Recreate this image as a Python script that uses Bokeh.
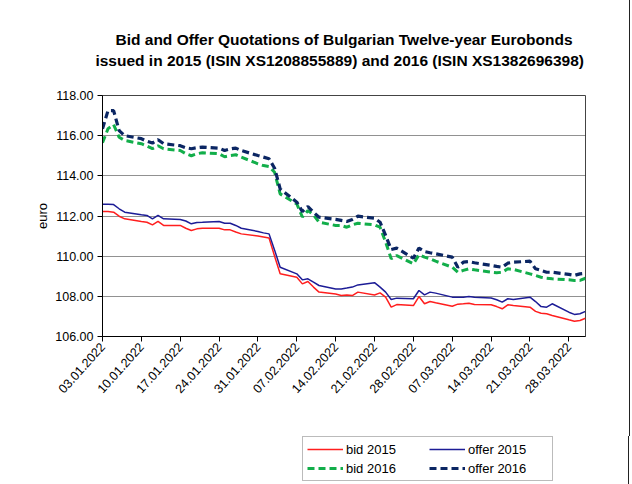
import pandas as pd
from bokeh.plotting import figure
from bokeh.layouts import column
from bokeh.models import Range1d, FixedTicker, Legend, LegendItem, NumeralTickFormatter, Title
from bokeh.embed import file_html
from bokeh.resources import INLINE

dates = [
    "2022-01-03", "2022-01-04", "2022-01-05", "2022-01-06", "2022-01-07",
    "2022-01-10", "2022-01-11", "2022-01-12", "2022-01-13", "2022-01-14",
    "2022-01-17", "2022-01-18", "2022-01-19", "2022-01-20", "2022-01-21",
    "2022-01-24", "2022-01-25", "2022-01-26", "2022-01-27", "2022-01-28",
    "2022-01-31", "2022-02-01", "2022-02-02", "2022-02-03", "2022-02-04",
    "2022-02-07", "2022-02-08", "2022-02-09", "2022-02-10", "2022-02-11",
    "2022-02-14", "2022-02-15", "2022-02-16", "2022-02-17", "2022-02-18",
    "2022-02-21", "2022-02-22", "2022-02-23", "2022-02-24", "2022-02-25",
    "2022-02-28", "2022-03-01", "2022-03-02", "2022-03-03", "2022-03-04",
    "2022-03-07", "2022-03-08", "2022-03-09", "2022-03-10", "2022-03-11",
    "2022-03-14", "2022-03-15", "2022-03-16", "2022-03-17", "2022-03-18",
    "2022-03-21", "2022-03-22", "2022-03-23", "2022-03-24", "2022-03-25",
    "2022-03-28", "2022-03-29", "2022-03-30", "2022-03-31",
]

bid_2015 = [
    112.22, 112.22, 112.19, 111.99, 111.86,
    111.73, 111.69, 111.56, 111.73, 111.53,
    111.53, 111.39, 111.28, 111.36, 111.39,
    111.39, 111.31, 111.31, 111.20, 111.11,
    111.00, 110.95, 110.90, 110.00, 109.12,
    108.95, 108.62, 108.74, 108.46, 108.21,
    108.12, 108.04, 108.07, 108.04, 108.21,
    108.07, 108.17, 107.96, 107.46, 107.59,
    107.54, 107.99, 107.63, 107.74, 107.68,
    107.51, 107.61, 107.63, 107.66, 107.59,
    107.58, 107.49, 107.38, 107.58, 107.54,
    107.46, 107.25, 107.16, 107.13, 107.05,
    106.83, 106.76, 106.80, 106.91,
]

offer_2015 = [
    112.59, 112.59, 112.57, 112.36, 112.19,
    112.06, 112.03, 111.86, 112.03, 111.86,
    111.83, 111.75, 111.61, 111.68, 111.69,
    111.73, 111.64, 111.64, 111.53, 111.39,
    111.23, 111.16, 111.11, 110.30, 109.45,
    109.12, 108.82, 108.87, 108.71, 108.54,
    108.37, 108.37, 108.41, 108.46, 108.57,
    108.68, 108.46, 108.21, 107.84, 107.91,
    107.88, 108.29, 108.07, 108.21, 108.16,
    107.96, 107.96, 107.96, 107.99, 107.96,
    107.92, 107.83, 107.71, 107.88, 107.84,
    107.96, 107.74, 107.49, 107.46, 107.63,
    107.21, 107.10, 107.13, 107.25,
]

bid_2016 = [
    115.65, 116.35, 116.55, 115.92, 115.76,
    115.60, 115.48, 115.35, 115.50, 115.35,
    115.26, 115.10, 115.00, 115.10, 115.15,
    115.10, 114.95, 115.01, 115.05, 114.93,
    114.60, 114.51, 114.46, 114.18, 113.10,
    112.60, 111.95, 112.27, 112.06, 111.69,
    111.53, 111.53, 111.44, 111.56, 111.64,
    111.56, 111.44, 110.70, 109.87, 110.03,
    109.62, 110.07, 109.95, 109.87, 109.75,
    109.45, 109.20, 109.29, 109.37, 109.32,
    109.20, 109.17, 109.20, 109.37, 109.34,
    109.12, 109.04, 108.95, 108.90, 108.87,
    108.82, 108.79, 108.79, 108.90,
]

offer_2016 = [
    116.34, 117.25, 117.25, 116.25, 116.00,
    115.85, 115.72, 115.63, 115.80, 115.60,
    115.50, 115.40, 115.35, 115.40, 115.43,
    115.38, 115.26, 115.34, 115.38, 115.26,
    115.01, 114.93, 114.85, 114.38, 113.35,
    112.69, 112.22, 112.47, 112.19, 111.94,
    111.83, 111.78, 111.73, 111.83, 111.99,
    111.89, 111.69, 111.03, 110.33, 110.40,
    109.90, 110.40, 110.23, 110.17, 110.12,
    109.95, 109.45, 109.70, 109.73, 109.67,
    109.54, 109.49, 109.45, 109.65, 109.70,
    109.75, 109.37, 109.29, 109.20, 109.20,
    109.09, 109.04, 109.12, 109.15,
]

tick_labels = [
    "03.01.2022", "10.01.2022", "17.01.2022", "24.01.2022", "31.01.2022",
    "07.02.2022", "14.02.2022", "21.02.2022", "28.02.2022", "07.03.2022",
    "14.03.2022", "21.03.2022", "28.03.2022",
]

y_ticks = [106, 108, 110, 112, 114, 116, 118]

title_lines = [
    "Bid and Offer Quotations of Bulgarian Twelve-year Eurobonds",
    "issued in 2015 (ISIN  XS1208855889) and 2016 (ISIN  XS1382696398)",
]

series_labels = ["bid 2015", "offer 2015", "bid 2016", "offer 2016"]

FONT = "Liberation Sans"

d = pd.to_datetime(dates)
origin = d[0]
x = [(t - origin).days for t in d]
tick_pos = [(pd.to_datetime(s, format="%d.%m.%Y") - origin).days for s in tick_labels]

styles = [
    dict(line_color="#FF1E1E", line_width=1.5),
    dict(line_color="#1C1C96", line_width=1.5),
    dict(line_color="#12AE4A", line_width=3, line_dash="7 4"),
    dict(line_color="#0B2663", line_width=3.2, line_dash="7 4"),
]
series = [bid_2015, offer_2015, bid_2016, offer_2016]

p = figure(
    output_backend="svg", toolbar_location=None,
    frame_width=482, frame_height=241,
    min_border_left=102, min_border_right=45, min_border_top=95, min_border_bottom=100,
    x_range=Range1d(x[0], x[-1]), y_range=Range1d(y_ticks[0], y_ticks[-1]),
    title=title_lines[0],
)

p.title.align = "center"
p.title.text_font = FONT
p.title.text_font_size = "15.5px"
p.title.text_font_style = "bold"
p.title.text_color = "black"
p.title.standoff = 4
t2 = Title(text=title_lines[1], align="center", text_font=FONT,
           text_font_size="15.5px", text_font_style="bold", text_color="black",
           standoff=0, padding=(0, 0, 0, 27))
p.add_layout(t2, "above")

p.background_fill_color = "white"
p.border_fill_color = "white"
p.outline_line_color = "#444444"
p.outline_line_width = 1

p.xgrid.visible = False
p.ygrid.ticker = FixedTicker(ticks=y_ticks[1:-1])
p.ygrid.grid_line_color = "#222222"
p.ygrid.grid_line_dash = "1 1"
p.ygrid.grid_line_width = 1

p.yaxis.ticker = FixedTicker(ticks=y_ticks)
p.yaxis.formatter = NumeralTickFormatter(format="0.00")
p.yaxis.axis_label = "euro"
p.yaxis.axis_label_text_font = FONT
p.yaxis.axis_label_text_font_size = "13px"
p.yaxis.axis_label_text_font_style = "normal"
p.yaxis.axis_label_text_color = "black"
p.yaxis.axis_label_standoff = 2
p.yaxis.major_label_text_font = FONT
p.yaxis.major_label_text_font_size = "12.5px"
p.yaxis.major_label_text_color = "black"
p.yaxis.major_tick_in = 0
p.yaxis.major_tick_out = 5
p.yaxis.minor_tick_line_color = None
p.yaxis.axis_line_color = "black"
p.yaxis.major_tick_line_color = "black"
p.yaxis.major_label_standoff = 4

p.xaxis.ticker = FixedTicker(ticks=tick_pos)
p.xaxis.major_label_overrides = {tp: lab for tp, lab in zip(tick_pos, tick_labels)}
p.xaxis.major_label_orientation = 0.84
p.xaxis.major_label_text_font = FONT
p.xaxis.major_label_text_font_size = "12.5px"
p.xaxis.major_label_text_color = "black"
p.xaxis.major_tick_in = 0
p.xaxis.major_tick_out = 5
p.xaxis.minor_tick_line_color = None
p.xaxis.axis_line_color = "black"
p.xaxis.major_tick_line_color = "black"
p.xaxis.major_label_standoff = 3

for ys, st in zip(series, styles):
    p.line(x, ys, **st)

p.styles = {"border-right": "1px solid #222"}

# legend strip below the chart (its own frame, so the legend is not clipped)
pl = figure(
    output_backend="svg", toolbar_location=None,
    width=629, height=48, min_border=0,
    x_axis_type=None, y_axis_type=None,
    x_range=Range1d(0, 1), y_range=Range1d(0, 1),
)
pl.outline_line_color = None
pl.xgrid.visible = False
pl.ygrid.visible = False
pl.background_fill_color = "white"
pl.border_fill_color = "white"
renderers = {}
for lab, ys, st in zip(series_labels, series, styles):
    renderers[lab] = pl.line(x, ys, **st)  # off-range: only its legend sample shows

# legend fills column by column: left column bids, right column offers
legend_order = ["bid 2015", "bid 2016", "offer 2015", "offer 2016"]
items = [LegendItem(label=lab, renderers=[renderers[lab]]) for lab in legend_order]

legend = Legend(
    items=items,
    location=(200, 3),
    ncols=2,
    glyph_width=36, glyph_height=16, label_height=16,
    label_width=80, label_standoff=3, spacing=3, padding=4,
    label_text_font=FONT, label_text_font_size="13px", label_text_color="black",
    border_line_color="#777777", border_line_width=1,
    background_fill_color="white", background_fill_alpha=1,
)
pl.add_layout(legend, "center")
pl.styles = {"border-right": "1px solid #222"}

layout = column(p, pl, spacing=0)
open("out.html", "w").write(file_html(layout, INLINE))
